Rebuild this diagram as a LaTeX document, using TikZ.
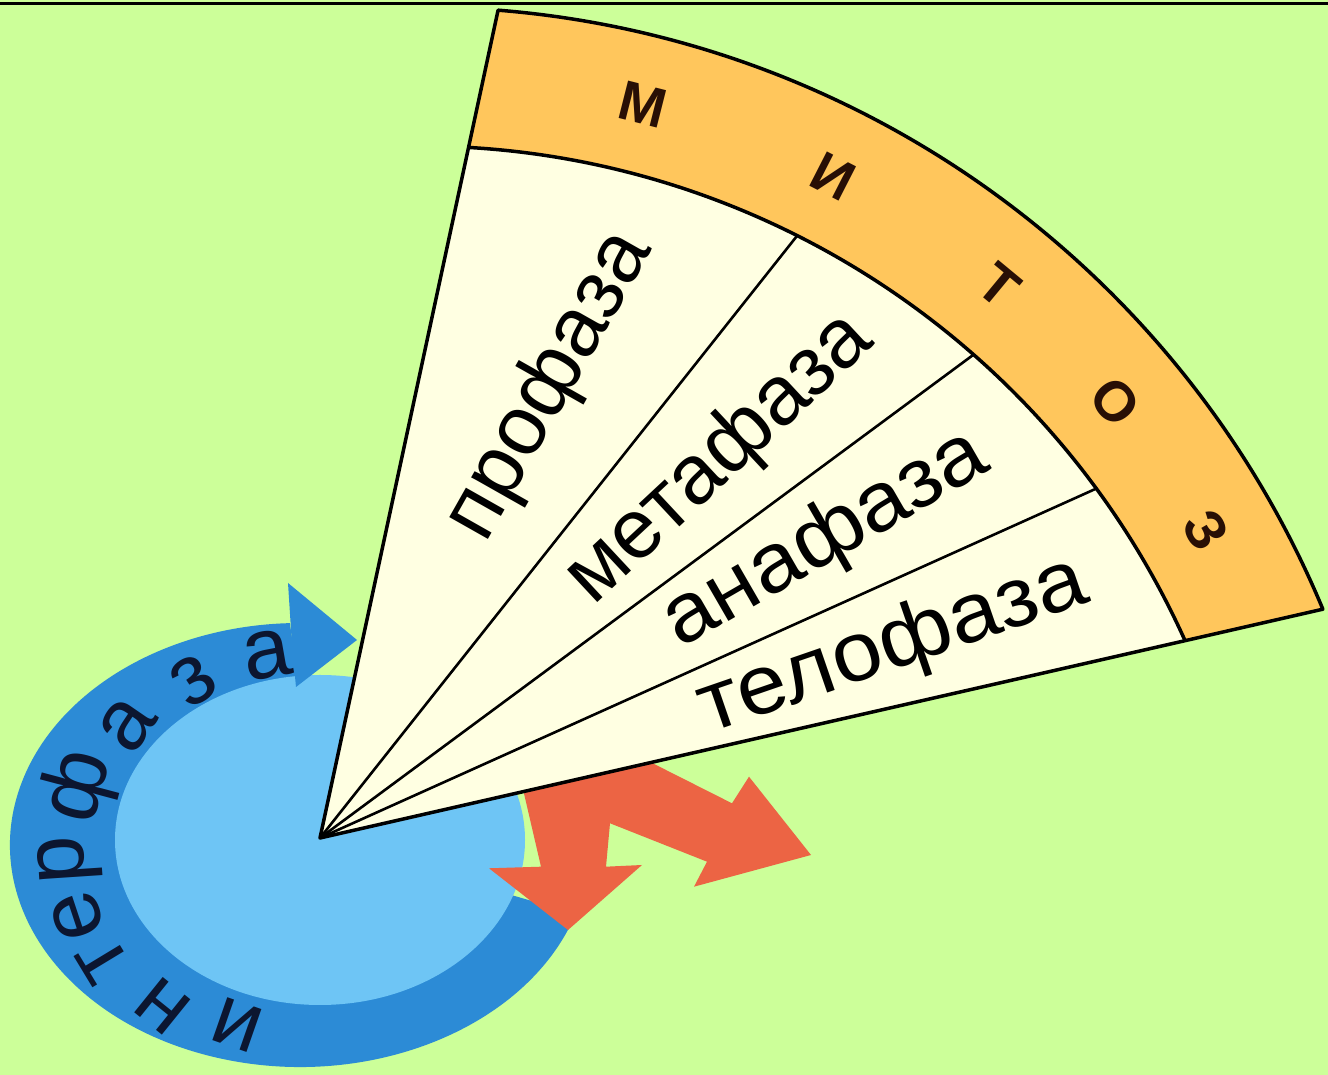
\documentclass[tikz,border=0pt]{standalone}
\usepackage{fontspec}
\setmainfont{Liberation Sans}
\usetikzlibrary{calc}
\definecolor{bg}{RGB}{204,255,153}
\definecolor{cream}{RGB}{255,255,226}
\definecolor{band}{RGB}{255,198,92}
\definecolor{lightblue}{RGB}{110,197,245}
\definecolor{ringblue}{RGB}{44,139,214}
\definecolor{redarrow}{RGB}{236,100,68}
\definecolor{ringtext}{RGB}{12,22,48}
\definecolor{bandtext}{RGB}{40,15,5}
\begin{document}
\begin{tikzpicture}[x=1pt,y=1pt,line join=round,
  outline/.style={draw=black,line width=3.5pt},
  divider/.style={draw=black,line width=2.6pt},
  phase/.style={font=\fontsize{84}{84}\selectfont,inner sep=0pt},
  mitletter/.style={font=\bfseries\fontsize{56}{56}\selectfont,text=bandtext,inner sep=0pt},
  intletter/.style={font=\fontsize{86}{86}\selectfont,text=ringtext,inner sep=0pt}]
\fill[bg] (0,0) rectangle (1328,1075);
\useasboundingbox (0,0) rectangle (1328,1075);
\draw[line width=3pt] (0,1071.5) -- (1328,1071.5);

% interphase ring
\coordinate (RC) at (300,230);
\coordinate (EC) at (320,235);
\fill[ringblue] (EC) -- (575.8,161.4) arc[start angle=-18,end angle=-268,x radius=290,y radius=222] -- cycle;
\fill[lightblue] (EC) ellipse[x radius=205,y radius=165];
\fill[ringblue] (288,492) -- (357,435) -- (296,388) -- (292,430) -- cycle;

% red arrows
\fill[redarrow] (519.7,300) -- (541,208.3) -- (489,206.7) -- (568,145) -- (642,210) -- (606,208.3) -- (610,251.7) -- (707,213.3) -- (694,188.3) -- (811,220) -- (749,298.3) -- (732,271.7) -- (640,318.1) -- cycle;

% fan
\coordinate (T) at (320,237);
\coordinate (O) at (420,90);
\coordinate (Li) at ($(O)+(86.68:839)$);
\coordinate (Lo) at ($(O)+(85.42:978)$);
\coordinate (Ri) at ($(O)+(24.23:839)$);
\coordinate (Ro) at ($(O)+(22.6:978)$);
\fill[cream] (T) -- (Li) arc[start angle=86.68,end angle=24.23,radius=839] -- cycle;
\fill[band] (Li) -- (Lo) arc[start angle=85.42,end angle=22.6,radius=978] -- (Ri) arc[start angle=24.23,end angle=86.68,radius=839] -- cycle;
\coordinate (D1) at ($(O)+(63.28:839)$);
\coordinate (D2) at ($(O)+(48.71:839)$);
\coordinate (D3) at ($(O)+(36.28:839)$);
\draw[divider] (T) -- (D1);
\draw[divider] (T) -- (D2);
\draw[divider] (T) -- (D3);
\draw[outline] (Li) arc[start angle=86.68,end angle=24.23,radius=839];
\draw[outline] (T) -- (Lo) arc[start angle=85.42,end angle=22.6,radius=978] -- (Ri) -- cycle;

% phase names
\node[phase,rotate=60.5] (pro) at (550,689) {профаза};
\node[phase,rotate=43] (meta) at (720,616) {метафаза};
\node[phase,rotate=30,xscale=1.06] (ana) at (826,535) {анафаза};
\node[phase,rotate=19,xscale=1.07] (telo) at (893,428) {телофаза};

% mitosis letters
\foreach \ch/\a [count=\i] in {М/75.8,И/62.9,Т/50.4,О/40,З/30.1}
  \node[mitletter,rotate=\a-90] (m\i) at ($(O)+(\a:908)$) {\ch};

% interphase letters
\foreach \ch/\x/\y/\r [count=\i] in {и/237/50/160.8,н/163/69/141.1,т/103/115/121.2,е/77/159/108.4,р/70/215/93.8,ф/80/288/75.1,а/127/350/55.5,з/193/394/33.4,а/267/420/10}
  \node[intletter,rotate=\r] (i\i) at (\x,\y) {\ch};
\end{tikzpicture}
\end{document}
